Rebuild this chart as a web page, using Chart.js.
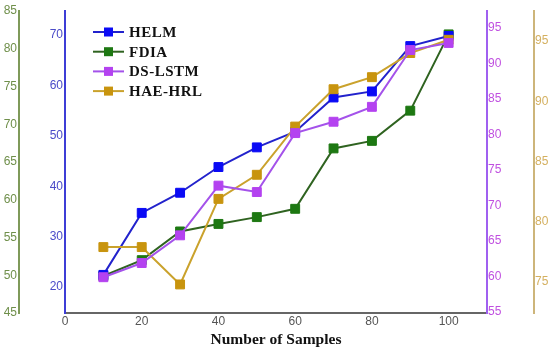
<!DOCTYPE html>
<html>
<head>
<meta charset="utf-8">
<script src="https://cdn.jsdelivr.net/npm/chart.js@4.4.1/dist/chart.umd.min.js"></script>
<style>
html, body { margin: 0; padding: 0; background: #fff; }
#wrap { width: 550px; height: 352px; }
</style>
</head>
<body>
<div id="wrap"><canvas id="samplesChart"></canvas></div>
<script>
const samples = [10, 20, 30, 40, 50, 60, 70, 80, 90, 100];
const seriesNames = ['HELM', 'FDIA', 'DS-LSTM', 'HAE-HRL'];
const helm = [22.4, 34.7, 38.7, 43.8, 47.7, 50.8, 57.6, 58.8, 67.8, 69.8];
const fdia = [49.9, 52.0, 55.8, 56.8, 57.7, 58.8, 66.8, 67.8, 71.8, 81.9];
const dsLstm = [59.9, 61.9, 65.8, 72.8, 71.9, 80.2, 81.8, 83.9, 91.9, 92.9];
const haeHrl = [77.9, 77.9, 74.8, 81.9, 83.9, 87.9, 91.0, 92.0, 94.0, 95.1];

const xTicks = [0, 20, 40, 60, 80, 100];
const helmTicks = [20, 30, 40, 50, 60, 70];
const fdiaTicks = [45, 50, 55, 60, 65, 70, 75, 80, 85];
const dsTicks = [55, 60, 65, 70, 75, 80, 85, 90, 95];
const haeTicks = [75, 80, 85, 90, 95];

const sans = '"Liberation Sans", Arial, sans-serif';
const serif = '"Liberation Serif", "Times New Roman", serif';

function series(label, values, axis, line, point, order) {
    return {
        label: label,
        data: samples.map((x, i) => ({ x: x, y: values[i] })),
        yAxisID: axis,
        borderColor: line,
        backgroundColor: point,
        pointBackgroundColor: point,
        pointBorderColor: point,
        pointStyle: 'rect',
        pointRadius: 6.3,
        pointBorderWidth: 1,
        borderWidth: 2,
        tension: 0,
        order: order
    };
}

function yAxis(pos, min, max, tickList, lineColor, labelColor, width, weight, pad) {
    return {
        type: 'linear',
        position: pos,
        min: min,
        max: max,
        weight: weight,
        grid: { display: false, drawTicks: false },
        border: { display: true, color: lineColor, width: 2 },
        ticks: { color: labelColor, font: { family: sans, size: 12 }, padding: pad },
        afterBuildTicks: (axis) => { axis.ticks = tickList.map(v => ({ value: v })); },
        afterFit: (axis) => { axis.width = width; }
    };
}

// legend drawn by hand: line + square marker + bold serif label
const lineLegend = {
    id: 'lineLegend',
    afterDatasetsDraw(chart) {
        const ctx = chart.ctx;
        const x0 = chart.chartArea.left + 28;
        ctx.save();
        ctx.font = 'bold 15px ' + serif;
        ctx.letterSpacing = '0.5px';
        ctx.textBaseline = 'middle';
        chart.data.datasets.forEach((ds, i) => {
            const y = 32 + i * 19.7;
            ctx.strokeStyle = ds.borderColor;
            ctx.lineWidth = 2;
            ctx.beginPath();
            ctx.moveTo(x0, y);
            ctx.lineTo(x0 + 31, y);
            ctx.stroke();
            ctx.fillStyle = ds.pointBackgroundColor;
            ctx.fillRect(x0 + 11, y - 4.5, 9, 9);
            ctx.fillStyle = '#111';
            ctx.fillText(ds.label, x0 + 36, y + 1);
        });
        ctx.restore();
    }
};

const ctx = document.getElementById('samplesChart').getContext('2d');
new Chart(ctx, {
    type: 'line',
    data: {
        datasets: [
            series(seriesNames[0], helm, 'yHelm', '#2222cc', '#0a0af5', 2),
            series(seriesNames[1], fdia, 'yFdia', '#2f6320', '#1d7812', 3),
            series(seriesNames[2], dsLstm, 'yDs', '#a452ea', '#b442f0', 0),
            series(seriesNames[3], haeHrl, 'yHae', '#caa22c', '#c8940e', 1)
        ]
    },
    options: {
        responsive: true,
        maintainAspectRatio: false,
        animation: false,
        layout: { padding: { top: 11, left: 0, right: 0, bottom: 0 } },
        plugins: { legend: { display: false }, tooltip: { enabled: false } },
        scales: {
            x: {
                type: 'linear',
                min: 0,
                max: 110,
                grid: { display: false, drawTicks: false },
                border: { display: true, color: '#666', width: 2 },
                ticks: { color: '#555', font: { family: sans, size: 12 }, padding: 1 },
                afterBuildTicks: (axis) => { axis.ticks = xTicks.map(v => ({ value: v })); },
                afterFit: (axis) => { axis.height = 39; },
                title: {
                    display: true,
                    text: 'Number of Samples',
                    color: '#111',
                    font: { family: serif, size: 15.5, weight: 'bold' },
                    padding: { top: 0, bottom: 3 }
                }
            },
            yHelm: yAxis('left', 14.84, 74.76, helmTicks, '#3d3dd6', '#4b4bc8', 46, 0, 2),
            yFdia: yAxis('left', 45, 85, fdiaTicks, '#7f9a5a', '#6f8f4a', 19, 1, 2),
            yDs: yAxis('right', 54.86, 97.4, dsTicks, '#a060f0', '#c050e0', 47, 0, 1),
            yHae: yAxis('right', 72.43, 97.49, haeTicks, '#cdb57a', '#d4b060', 16, 1, 1)
        }
    },
    plugins: [lineLegend]
});
</script>
</body>
</html>
